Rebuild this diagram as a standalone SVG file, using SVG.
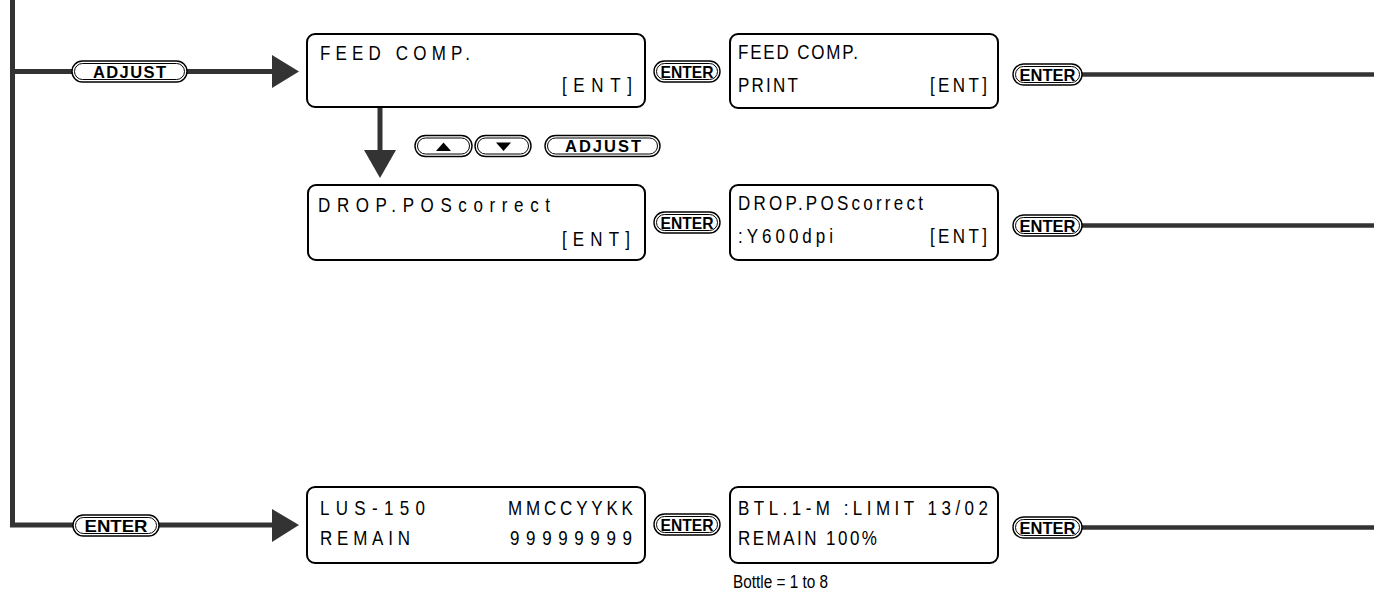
<svg xmlns="http://www.w3.org/2000/svg" width="1374" height="595" viewBox="0 0 1374 595">
<style>
.lcd{fill:#fff;stroke:#000;stroke-width:2}
.t{font-family:"Liberation Sans",Arial,sans-serif;font-size:20px;fill:#000}
.bo{fill:#fff;stroke:#000;stroke-width:1.4}
.bi{fill:none;stroke:#000;stroke-width:1}
.bt{font-family:"Liberation Sans",Arial,sans-serif;font-weight:bold;fill:#000;text-anchor:middle}
.ln{fill:none;stroke:#333;stroke-width:5;stroke-linejoin:miter}
.ln2{fill:none;stroke:#333;stroke-width:4.5}
.ah{fill:#333}
.note{font-family:"Liberation Sans",Arial,sans-serif;font-size:18px;fill:#000}
</style>
<rect width="1374" height="595" fill="#fff"/>

<g id="connectors">
  <path class="ln" d="M12.5,0 V71.5 H274"/>
  <path class="ln" d="M12.5,70 V525 H274"/>
  <polygon class="ah" points="272,55 299,71.5 272,88"/>
  <polygon class="ah" points="272,509 299,525 272,542"/>
  <path class="ln" d="M380,107 V152"/>
  <polygon class="ah" points="364,150 396,150 380,178"/>
  <path class="ln2" d="M1080,74.5 H1374"/>
  <path class="ln2" d="M1080,225.5 H1374"/>
  <path class="ln2" d="M1080,527.5 H1374"/>
</g>

<g id="key-adjust-1">
  <rect class="bo" x="72" y="61" width="115" height="21" rx="10.5"/>
  <rect class="bi" x="74.5" y="63.5" width="110" height="16" rx="8"/>
  <text class="bt" x="129.5" y="77.5" font-size="16.5" textLength="73" lengthAdjust="spacing">ADJUST</text>
</g>
<g id="key-enter-bottom">
  <rect class="bo" x="73" y="515" width="86" height="21" rx="10.5"/>
  <rect class="bi" x="75.5" y="517.5" width="81" height="16" rx="8"/>
  <text class="bt" x="116" y="531.5" font-size="16.5" textLength="63" lengthAdjust="spacingAndGlyphs">ENTER</text>
</g>

<g id="node-feed-comp">
  <rect class="lcd" x="307" y="34" width="338" height="73" rx="8"/>
  <text class="t" transform="translate(320,60) scale(0.85,1)" textLength="176.5" lengthAdjust="spacing">FEED COMP.</text>
  <text class="t" transform="translate(562,92) scale(0.85,1)" textLength="82.4" lengthAdjust="spacing">[ENT]</text>
</g>
<g id="key-enter-1">
  <rect class="bo" x="654" y="61" width="66" height="21" rx="10.5"/>
  <rect class="bi" x="656.5" y="63.5" width="61" height="16" rx="8"/>
  <text class="bt" x="687" y="77.5" font-size="16.5" textLength="53" lengthAdjust="spacingAndGlyphs">ENTER</text>
</g>
<g id="node-feed-comp-print">
  <rect class="lcd" x="730" y="34" width="268" height="74" rx="8"/>
  <text class="t" transform="translate(738,59) scale(0.85,1)" textLength="141.2" lengthAdjust="spacing">FEED COMP.</text>
  <text class="t" transform="translate(738,92) scale(0.85,1)" textLength="70.6" lengthAdjust="spacing">PRINT</text>
  <text class="t" transform="translate(930,92) scale(0.85,1)" textLength="67.1" lengthAdjust="spacing">[ENT]</text>
</g>
<g id="key-enter-2">
  <rect class="bo" x="1013" y="64" width="69" height="21" rx="10.5"/>
  <rect class="bi" x="1015.5" y="66.5" width="64" height="16" rx="8"/>
  <text class="bt" x="1047.5" y="80.5" font-size="16.5" textLength="56" lengthAdjust="spacingAndGlyphs">ENTER</text>
</g>

<g id="keys-up-down-adjust">
  <rect class="bo" x="415" y="135.5" width="57" height="21" rx="10.5"/>
  <rect class="bi" x="417.5" y="138" width="52" height="16" rx="8"/>
  <polygon points="436,151 451,151 443.5,142.5" fill="#000"/>
  <rect class="bo" x="475" y="135.5" width="56" height="21" rx="10.5"/>
  <rect class="bi" x="477.5" y="138" width="51" height="16" rx="8"/>
  <polygon points="496,142.5 511,142.5 503.5,151" fill="#000"/>
  <rect class="bo" x="545" y="135.5" width="115" height="21" rx="10.5"/>
  <rect class="bi" x="547.5" y="138" width="110" height="16" rx="8"/>
  <text class="bt" x="603" y="152" font-size="16.5" textLength="76" lengthAdjust="spacing">ADJUST</text>
</g>

<g id="node-drop-pos">
  <rect class="lcd" x="308" y="185" width="337" height="75" rx="8"/>
  <text class="t" transform="translate(318,212) scale(0.85,1)" textLength="272.9" lengthAdjust="spacing">DROP.POScorrect</text>
  <text class="t" transform="translate(562,246) scale(0.85,1)" textLength="80" lengthAdjust="spacing">[ENT]</text>
</g>
<g id="key-enter-3">
  <rect class="bo" x="654" y="212" width="66" height="21" rx="10.5"/>
  <rect class="bi" x="656.5" y="214.5" width="61" height="16" rx="8"/>
  <text class="bt" x="687" y="228.5" font-size="16.5" textLength="53" lengthAdjust="spacingAndGlyphs">ENTER</text>
</g>
<g id="node-drop-pos-y600">
  <rect class="lcd" x="730" y="185" width="268" height="75" rx="8"/>
  <text class="t" transform="translate(738,210) scale(0.85,1)" textLength="217.6" lengthAdjust="spacing">DROP.POScorrect</text>
  <text class="t" transform="translate(738,243) scale(0.85,1)" textLength="111.8" lengthAdjust="spacing">:Y600dpi</text>
  <text class="t" transform="translate(930,243) scale(0.85,1)" textLength="67.1" lengthAdjust="spacing">[ENT]</text>
</g>
<g id="key-enter-4">
  <rect class="bo" x="1013" y="215" width="69" height="21" rx="10.5"/>
  <rect class="bi" x="1015.5" y="217.5" width="64" height="16" rx="8"/>
  <text class="bt" x="1047.5" y="231.5" font-size="16.5" textLength="56" lengthAdjust="spacingAndGlyphs">ENTER</text>
</g>

<g id="node-lus-150">
  <rect class="lcd" x="307" y="487" width="338" height="76" rx="8"/>
  <text class="t" transform="translate(320,515) scale(0.85,1)" textLength="123.5" lengthAdjust="spacing">LUS-150</text>
  <text class="t" transform="translate(508,515) scale(0.85,1)" textLength="147" lengthAdjust="spacing">MMCCYYKK</text>
  <text class="t" transform="translate(320,545) scale(0.85,1)" textLength="105.9" lengthAdjust="spacing">REMAIN</text>
  <text class="t" transform="translate(510,545) scale(0.85,1)" textLength="143.5" lengthAdjust="spacing">99999999</text>
</g>
<g id="key-enter-5">
  <rect class="bo" x="654" y="514" width="66" height="21" rx="10.5"/>
  <rect class="bi" x="656.5" y="516.5" width="61" height="16" rx="8"/>
  <text class="bt" x="687" y="530.5" font-size="16.5" textLength="53" lengthAdjust="spacingAndGlyphs">ENTER</text>
</g>
<g id="node-btl">
  <rect class="lcd" x="730" y="487" width="268" height="76" rx="8"/>
  <text class="t" transform="translate(738,515) scale(0.85,1)" textLength="294.1" lengthAdjust="spacing">BTL.1-M :LIMIT 13/02</text>
  <text class="t" transform="translate(738,545) scale(0.85,1)" textLength="163.5" lengthAdjust="spacing">REMAIN 100%</text>
  <text class="note" x="733" y="588" textLength="95" lengthAdjust="spacingAndGlyphs">Bottle = 1 to 8</text>
</g>
<g id="key-enter-6">
  <rect class="bo" x="1013" y="517" width="69" height="21" rx="10.5"/>
  <rect class="bi" x="1015.5" y="519.5" width="64" height="16" rx="8"/>
  <text class="bt" x="1047.5" y="533.5" font-size="16.5" textLength="56" lengthAdjust="spacingAndGlyphs">ENTER</text>
</g>
</svg>
